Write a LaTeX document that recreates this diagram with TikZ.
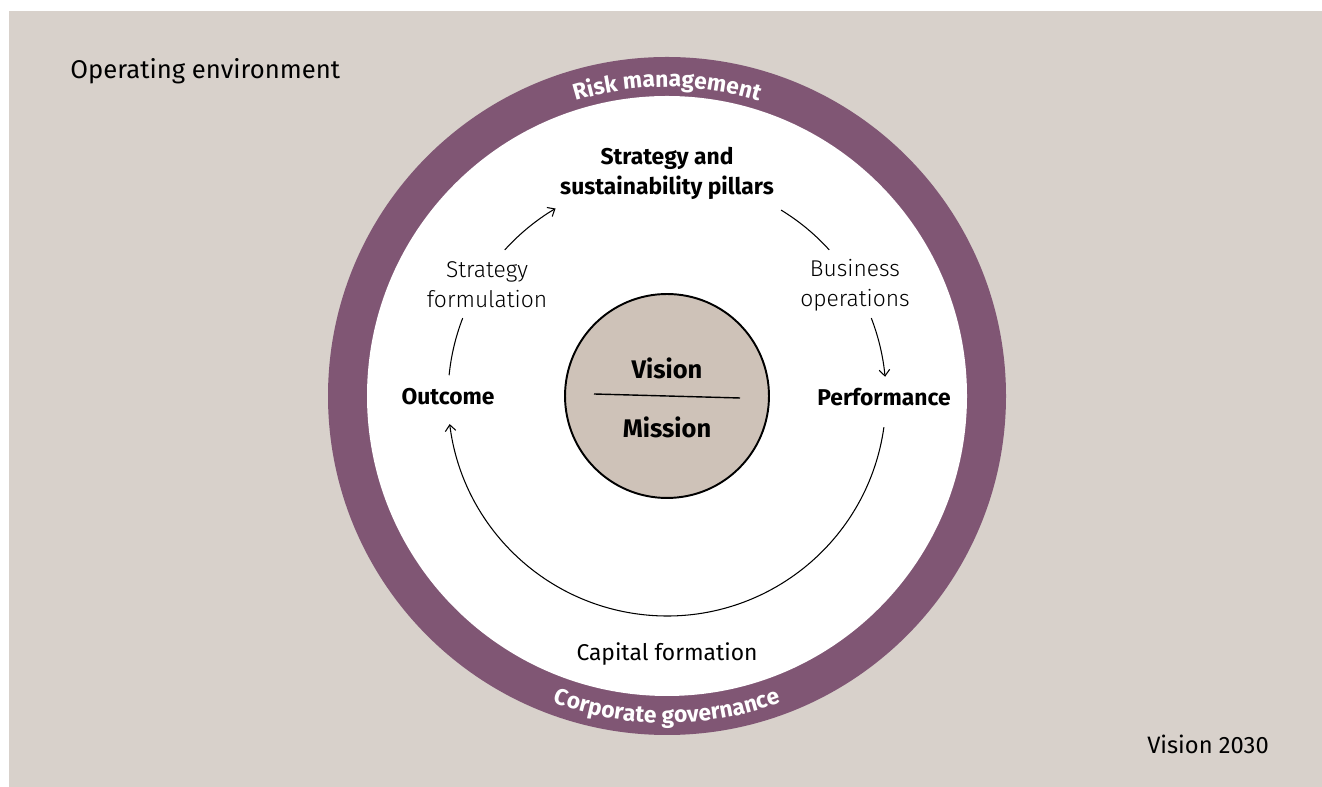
\documentclass[tikz,border=0pt]{standalone}
\usepackage{fontspec}
\setmainfont{Fira Sans}
\newfontfamily\lightfont{Fira Sans Light}
\usetikzlibrary{calc,decorations.text,arrows.meta}

\definecolor{envbeige}{HTML}{D8D1CB}
\definecolor{ringpurple}{HTML}{805674}
\definecolor{corebeige}{HTML}{CEC2B8}
\newcommand{\ringfont}{\fontsize{13}{14}\selectfont\bfseries}

\begin{document}
\begin{tikzpicture}[x=0.02cm,y=0.02cm, >={Straight Barb[length=3.5pt,width=6pt]},
    plaintext/.style={font=\fontsize{13.5}{17}\selectfont, align=center, inner sep=0pt},
    boldtext/.style={plaintext, font=\fontsize{13}{17}\selectfont\bfseries},
    lighttext/.style={plaintext, font=\fontsize{13}{17}\selectfont\lightfont},
    ringtext/.style={decorate, decoration={text along path, text align=center, text color=white}},
    cyclearc/.style={line width=0.6pt}]

    % Operating environment
    \useasboundingbox (0,0) rectangle (1322,787);
    \fill[envbeige] (9,0) rectangle (1322,776);
    \node[plaintext, anchor=west, font=\fontsize{14.6}{17}\selectfont] (env) at (70,716) {Operating environment};
    \node[plaintext] (year) at (1208,43) {Vision 2030};

    % Risk management / governance ring
    \coordinate (C) at (667,391);
    \fill[ringpurple] (C) circle[radius=339];
    \fill[white] (C) circle[radius=300];
    \path[ringtext, decoration={text={|\ringfont|Risk management}}]
        ($(C)+(112:309)$) arc[start angle=112, end angle=68, radius=309];
    \path[ringtext, decoration={text={|\ringfont|Corporate governance}}]
        ($(C)+(243:327)$) arc[start angle=243, end angle=297, radius=327];

    % Vision / Mission core
    \node[circle, draw, line width=1.1pt, fill=corebeige, minimum size=4.08cm] (core) at (667,391) {};
    \draw[line width=0.8pt] (594,393) -- (740,389);
    \node[boldtext, font=\fontsize{14.5}{17}\selectfont\bfseries] (vision) at (667,419) {Vision};
    \node[boldtext, font=\fontsize{14.5}{17}\selectfont\bfseries] (mission) at (667,360) {Mission};

    % Steps of the cycle
    \node[boldtext] (strategy) at (667,614) {Strategy and\\sustainability pillars};
    \node[lighttext] (formulation) at (487,502) {Strategy\\formulation};
    \node[lighttext] (operations) at (855,502) {Business\\operations};
    \node[boldtext] (outcome) at (448,390) {Outcome};
    \node[boldtext] (performance) at (884,390) {Performance};
    \node[plaintext, font=\fontsize{13}{17}\selectfont] (capital) at (667,133) {Capital formation};

    % Cycle arcs
    \coordinate (A) at (667,390);
    \foreach \s/\e/\tip in {174.3/158.9/-, 137.8/120.6/->, 58.6/42.2/-, 21.1/5.3/->, -7.9/-172.9/->} {
      \coordinate (arcstart) at ($(A)+(\s:219)$);
      \draw[cyclearc, \tip] (arcstart) arc[start angle=\s, end angle=\e, radius=219];
    }
\end{tikzpicture}
\end{document}
